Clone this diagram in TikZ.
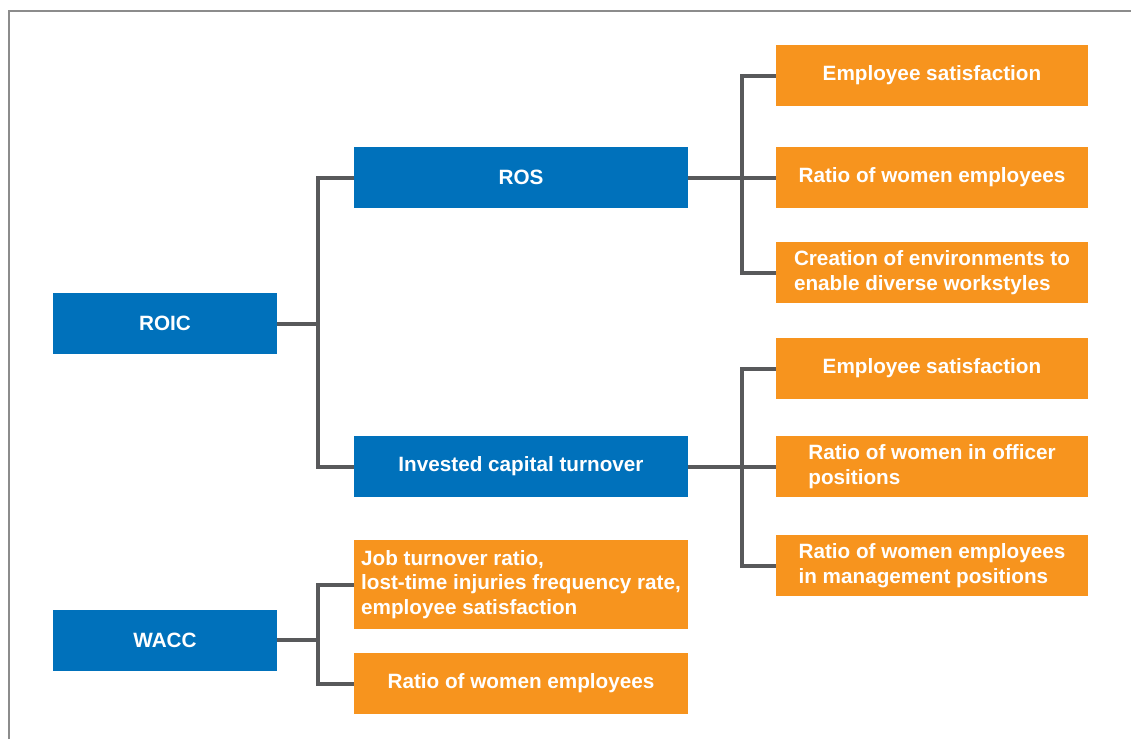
\documentclass[tikz,border=0pt]{standalone}
\usepackage{fontspec}
\setmainfont{Liberation Sans}
\usepackage{tikz}
\usepackage{xcolor}

\definecolor{kpiblue}{HTML}{0071BB}
\definecolor{kpiorange}{HTML}{F7941E}
\definecolor{linkgray}{HTML}{58595B}
\definecolor{framegray}{HTML}{8C8C8C}

\begin{document}
\begin{tikzpicture}[x=1pt, y=-1pt,
  box/.style={inner sep=0pt, minimum height=61pt, text=white,
    font=\fontsize{20.7}{24.5}\selectfont\bfseries, align=left},
  finbox/.style={box, fill=kpiblue, minimum width=224pt},
  midbox/.style={box, fill=kpiblue, minimum width=334pt},
  hrbox/.style={box, fill=kpiorange, minimum width=334pt},
  rbox/.style={box, fill=kpiorange, minimum width=312pt},
  link/.style={draw=linkgray, line width=4pt}]
\useasboundingbox (0,0) rectangle (1131,739);
\draw [framegray, line width=2pt] (9,739) -- (9,11) -- (1131,11);

% financial indicators
\node [finbox] (roic) at (165,323.5) {ROIC};
\node [finbox] (wacc) at (165,640) {WACC};
\node [midbox] (ros) at (521,177.5) {ROS};
\node [midbox] (ict) at (521,466.5) {Invested capital turnover};

% non-financial indicators
\node [hrbox, minimum height=89pt] (job) at (521,584.5) {Job turnover ratio,\\lost-time injuries frequency rate,\\employee satisfaction};
\node [hrbox] (wrat) at (521,683.5) {Ratio of women employees};
\node [rbox] (sat1) at (932,75.5) {Employee satisfaction};
\node [rbox] (wemp) at (932,177.5) {Ratio of women employees};
\node [rbox] (envir) at (932,272.5) {Creation of environments to\\enable diverse workstyles};
\node [rbox] (sat2) at (932,368.5) {Employee satisfaction};
\node [rbox] (woff) at (932,466.5) {Ratio of women in officer\\positions};
\node [rbox] (wman) at (932,565.5) {Ratio of women employees\\in management positions};

\coordinate (jroic) at (318,323.5);
\coordinate (jros) at (742,177.5);
\coordinate (jict) at (742,466.5);
\coordinate (jwacc) at (318,640);

\draw [link] (ros.west) -| (jroic) |- (ict.west);
\draw [link] (roic.east) -- (jroic);
\draw [link] (sat1.west) -| (jros) |- (envir.west);
\draw [link] (ros.east) -- (wemp.west);
\draw [link] (sat2.west) -| (jict) |- (wman.west);
\draw [link] (ict.east) -- (woff.west);
\draw [link] (job.west) -| (jwacc) |- (wrat.west);
\draw [link] (wacc.east) -- (jwacc);
\end{tikzpicture}
\end{document}
